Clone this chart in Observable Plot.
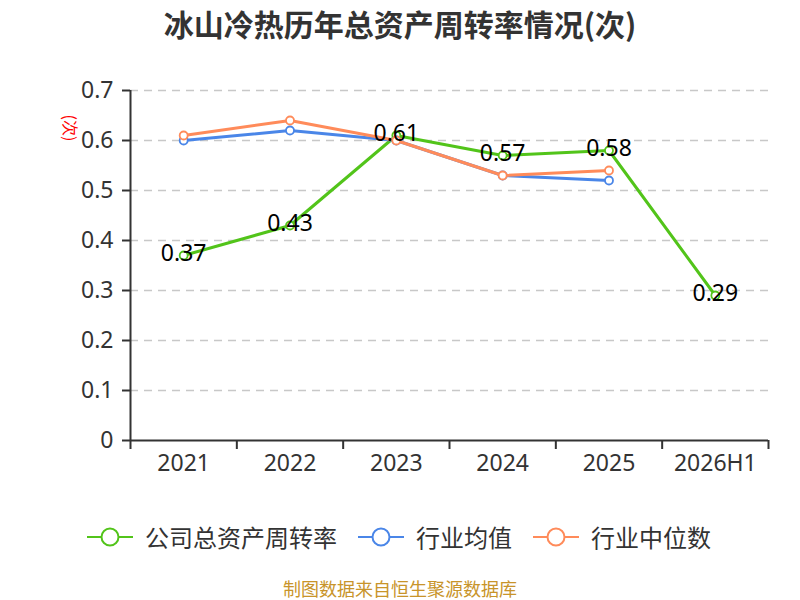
<!DOCTYPE html>
<html><head><meta charset="utf-8">
<script src="https://cdn.jsdelivr.net/npm/d3@7"></script>
<script src="https://cdn.jsdelivr.net/npm/@observablehq/plot@0.6"></script>
<style>
body{margin:0;width:800px;height:600px;position:relative;background:#fff;font-family:"Noto Sans CJK SC","Noto Sans",sans-serif;overflow:hidden}
#title{position:absolute;top:2px;left:0;width:800px;text-align:center;font-size:30px;font-weight:bold;color:#333;line-height:42px}
#chart{position:absolute;top:0;left:0}
#ylab{position:absolute;left:57px;top:118px;font-size:16px;color:#f00;transform:rotate(90deg);transform-origin:center;line-height:20px;width:28px;text-align:center}
#legend{position:absolute;top:517px;left:0;width:800px;height:40px}
.item{position:absolute;top:0;display:flex;align-items:center;font-size:24px;color:#333;line-height:40px}
.item svg{margin-right:12px}
#source{position:absolute;top:577px;left:0;width:800px;text-align:center;font-size:18px;color:#c8942a;line-height:22px}
</style></head>
<body>
<div id="title">冰山冷热历年总资产周转率情况(次)</div>
<div id="chart"></div>
<div id="ylab">(次)</div>
<div id="legend"></div>
<div id="source">制图数据来自恒生聚源数据库</div>
<script>
const categories = ["2021","2022","2023","2024","2025","2026H1"];
const company = [0.37,0.43,0.61,0.57,0.58,0.29];
const industryAvg = [0.60,0.62,0.60,0.53,0.52];
const industryMedian = [0.61,0.64,0.60,0.53,0.54];
const yTicks = [0,0.1,0.2,0.3,0.4,0.5,0.6,0.7];
const seriesNames = ["公司总资产周转率","行业均值","行业中位数"];
const colors = ["#52c41a","#4a86e8","#ff8b5a"];

const toRows = (vals) => vals.map((v,i)=>({i, cat: categories[i], v}));
const rowsC = toRows(company), rowsA = toRows(industryAvg), rowsM = toRows(industryMedian);
const idx = categories.map((c,i)=>i);
const bounds = [-0.5, ...idx.map(i=>i+0.5)];

const lineSeries = (rows, color) => [
  Plot.line(rows, {x:"i", y:"v", stroke:color, strokeWidth:3}),
  Plot.dot(rows, {x:"i", y:"v", r:4, fill:"#fff", stroke:color, strokeWidth:1.8})
];

const chart = Plot.plot({
  width: 800, height: 500,
  marginTop: 90, marginBottom: 60, marginLeft: 130, marginRight: 32,
  style: {fontSize:"23px", color:"#333", fontFamily:'"Noto Sans","Open Sans",sans-serif', background:"transparent"},
  x: {domain:[-0.5, categories.length-0.5], axis:null},
  y: {domain:[0,0.7], axis:null},
  marks: [
    Plot.gridY(yTicks.filter(d=>d>0), {stroke:"#c8c8c8", strokeOpacity:1, strokeDasharray:"8,6", strokeWidth:1.5}),
    Plot.axisY(yTicks, {label:null, tickSize:8, tickPadding:9, strokeWidth:2, fontSize:23, tickFormat: d => d===0 ? "0" : d.toFixed(1)}),
    Plot.axisX(bounds, {label:null, tickSize:9, strokeWidth:2, tickFormat: () => ""}),
    Plot.axisX(idx, {label:null, tickSize:0, tickPadding:14, fontSize:23, tickFormat: i => categories[i]}),
    Plot.ruleX([-0.5], {y1:0, y2:0.7, stroke:"#333", strokeWidth:2}),
    Plot.ruleY([0], {x1:-0.5, x2:categories.length-0.5, stroke:"#333", strokeWidth:2}),
    ...lineSeries(rowsC, colors[0]),
    ...lineSeries(rowsA, colors[1]),
    ...lineSeries(rowsM, colors[2]),
    Plot.text(rowsC, {x:"i", y:"v", text: d => d.v.toFixed(2), fontSize:23, fill:"#000", dy:-2})
  ]
});
document.getElementById("chart").appendChild(chart);

const legendPos = [87, 358, 533];
const legend = document.getElementById("legend");
seriesNames.forEach((name,k)=>{
  const div = document.createElement("div");
  div.className = "item";
  div.style.left = legendPos[k] + "px";
  div.innerHTML = `<svg width="46" height="24"><line x1="0" y1="12" x2="46" y2="12" stroke="${colors[k]}" stroke-width="2"/><circle cx="23" cy="12" r="8.5" fill="#fff" stroke="${colors[k]}" stroke-width="2"/></svg><span>${name}</span>`;
  legend.appendChild(div);
});
</script>
</body></html>
